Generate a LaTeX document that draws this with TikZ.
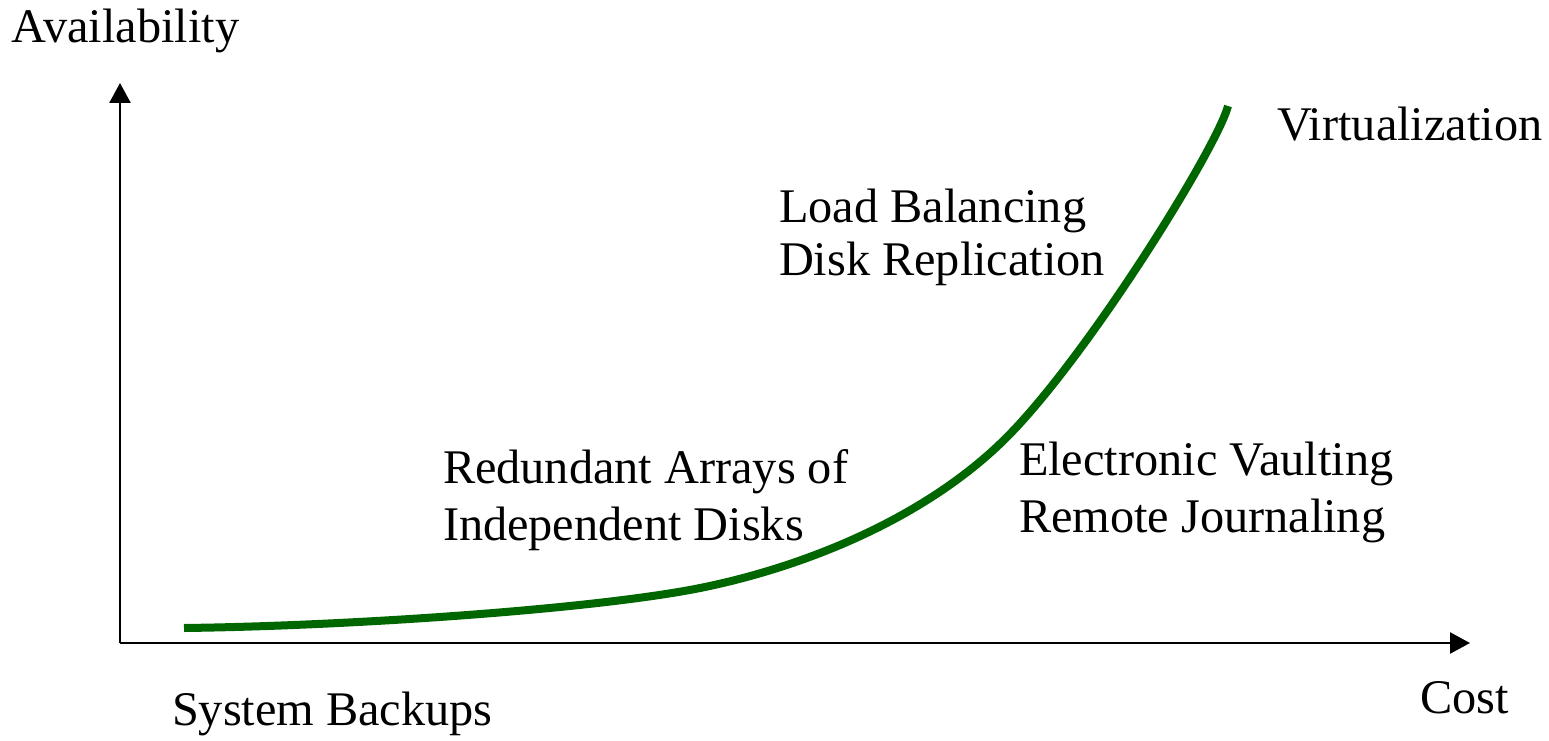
\documentclass[tikz,border=0pt]{standalone}
\usepackage{fontspec}
\setmainfont{Liberation Serif}
\usetikzlibrary{arrows.meta}
\definecolor{curvegreen}{RGB}{0,102,0}
\tikzset{
  lbl/.style={anchor=base west, inner sep=0pt, outer sep=0pt, font=\fontsize{48.3}{58}\selectfont},
  axis/.style={line width=2.4pt, black, -{Triangle[length=20pt,width=21pt]}},
  costcurve/.style={line width=8pt, curvegreen}
}
\begin{document}
\begin{tikzpicture}[x=1pt,y=-1pt]
\useasboundingbox (0,0) rectangle (1549,741);
\coordinate (origin) at (120,643);
\coordinate (ytip) at (120,83);
\coordinate (xtip) at (1470,643);
\draw[axis] (origin) -- (ytip);
\draw[axis] (origin) -- (xtip);
\coordinate (c0) at (184,628);
\coordinate (c1) at (705,587);
\coordinate (c2) at (1003,441);
\coordinate (c3) at (1228,106);
\draw[costcurve] (c0) .. controls (350,626) and (600,609) .. (c1)
  .. controls (810,565) and (925,517) .. (c2)
  .. controls (1085,361) and (1217,148) .. (c3);
\node[lbl] (avail) at (12,43) {Availability};
\node[lbl] (cost) at (1420,713) {Cost};
\node[lbl] (virt) at (1277,140) {Virtualization};
\node[lbl] (load) at (779,222) {Load Balancing};
\node[lbl] (disk) at (779,275) {Disk Replication};
\node[lbl] (raid1) at (443,483) {Redundant Arrays of};
\node[lbl] (raid2) at (443,540) {Independent Disks};
\node[lbl] (elec) at (1019,475) {Electronic Vaulting};
\node[lbl] (remote) at (1019,532) {Remote Journaling};
\node[lbl] (backup) at (172,725) {System Backups};
\end{tikzpicture}
\end{document}
